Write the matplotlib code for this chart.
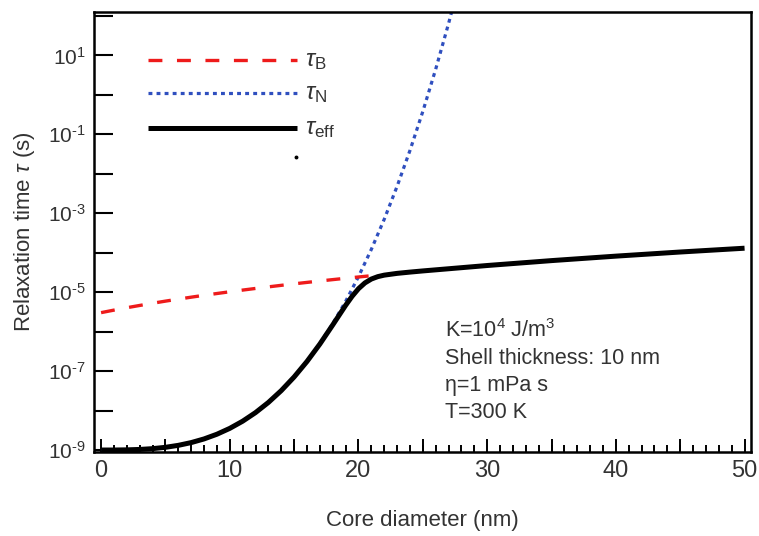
import matplotlib
matplotlib.use('Agg')
import matplotlib.pyplot as plt
from matplotlib.ticker import FixedLocator, MultipleLocator, NullLocator

plt.rcParams['font.family'] = ['Liberation Sans', 'DejaVu Sans']
plt.rcParams['mathtext.fontset'] = 'custom'
plt.rcParams['mathtext.rm'] = 'Liberation Sans'
plt.rcParams['mathtext.it'] = 'Liberation Sans:italic'
plt.rcParams['mathtext.bf'] = 'Liberation Sans:bold'

# ---------------- data ----------------
# Neel relaxation time tau_N (s) vs core diameter (nm)
d_neel = [0, 1, 2, 3, 4, 5, 6, 7, 8, 9, 10, 11, 12, 13, 14, 15, 16, 17, 18,
          19, 20, 21, 22, 23, 24, 25, 26, 27, 28]
tau_N = [1.000e-9, 1.001e-9, 1.010e-9, 1.035e-9, 1.084e-9, 1.171e-9, 1.314e-9,
         1.543e-9, 1.910e-9, 2.513e-9, 3.540e-9, 5.380e-9, 8.886e-9, 1.608e-8,
         3.210e-8, 7.13e-8, 1.773e-7, 4.98e-7, 1.593e-6, 5.83e-6, 2.470e-5,
         1.217e-4, 7.03e-4, 4.80e-3, 3.89e-2, 0.380, 4.47, 64.1, 1130.0]

# Brownian relaxation time tau_B (s)
d_brown = [0, 1, 2, 3, 4, 5, 6, 7, 8, 9, 10, 11, 12, 13, 14, 15, 16, 17, 18,
           19, 20, 21]
tau_B = [3.03e-6, 3.51e-6, 4.04e-6, 4.61e-6, 5.24e-6, 5.93e-6, 6.67e-6, 7.47e-6,
         8.33e-6, 9.25e-6, 1.024e-5, 1.130e-5, 1.243e-5, 1.363e-5, 1.491e-5,
         1.626e-5, 1.770e-5, 1.921e-5, 2.081e-5, 2.250e-5, 2.427e-5, 2.614e-5]

# effective relaxation time tau_eff (s)
d_eff = [0, 1, 2, 3, 4, 5, 6, 7, 8, 9, 10, 11, 12, 13, 14, 15, 16, 17, 18, 19,
         19.5, 20, 20.5, 21, 21.5, 22, 23, 24, 25, 30, 35, 40, 45, 50]
tau_eff = [1.000e-9, 1.001e-9, 1.010e-9, 1.035e-9, 1.084e-9, 1.171e-9, 1.314e-9,
           1.543e-9, 1.910e-9, 2.513e-9, 3.539e-9, 5.377e-9, 8.880e-9, 1.606e-8,
           3.203e-8, 7.10e-8, 1.755e-7, 4.85e-7, 1.480e-6, 4.63e-6, 7.83e-6,
           1.224e-5, 1.715e-5, 2.152e-5, 2.476e-5, 2.702e-5, 2.996e-5, 3.228e-5,
           3.456e-5, 4.74e-5, 6.31e-5, 8.19e-5, 1.042e-4, 1.301e-4]

y_tick_values = [1e2, 1e1, 1e0, 1e-1, 1e-2, 1e-3, 1e-4, 1e-5, 1e-6, 1e-7, 1e-8, 1e-9]
y_tick_labels = ['', r'10$^{1}$', '', r'10$^{\text{-}1}$', '', r'10$^{\text{-}3}$', '',
                 r'10$^{\text{-}5}$', '', r'10$^{\text{-}7}$', '', r'10$^{\text{-}9}$']
x_tick_values = [0, 10, 20, 30, 40, 50]
x_mid_ticks = [5, 15, 25, 35, 45]

annotation_lines = [r'K=10$^{4}$ J/m$^{3}$', 'Shell thickness: 10 nm',
                    'η=1 mPa s', 'T=300 K']
legend_labels = [r'$\tau_{\mathrm{B}}$', r'$\tau_{\mathrm{N}}$', r'$\tau_{\mathrm{eff}}$']

# ---------------- figure ----------------
W, H = 759, 536
fig = plt.figure(figsize=(W / 100, H / 100), dpi=100)
L, R, T, B = 94, 751, 12, 452
ax = fig.add_axes([L / W, 1 - B / H, (R - L) / W, (B - T) / H])

red = '#EE1B1B'
blue = '#2F4FBF'
textc = '#333333'

lw_r = 2.4
red_dash = (10 / lw_r, 10.5 / lw_r)
lw_b = 2.3
blue_dash = (2.8 / lw_b, 3.0 / lw_b)
lw_k = 3.6

ax.plot(d_brown, tau_B, color=red, lw=lw_r, dashes=red_dash,
        zorder=3, dash_capstyle='butt')
ax.plot(d_neel, tau_N, color=blue, lw=lw_b, dashes=blue_dash,
        zorder=2, dash_capstyle='butt')
ax.plot(d_eff, tau_eff, color='black', lw=lw_k, zorder=4, solid_capstyle='butt')

ax.set_yscale('log')
ax.set_xlim(-0.55, 50.5)
ax.set_ylim(10 ** -9.05, 10 ** 2.1)

ax.yaxis.set_major_locator(FixedLocator(y_tick_values))
ax.set_yticklabels(y_tick_labels)
ax.yaxis.set_minor_locator(NullLocator())
ax.set_xticks(x_tick_values)
ax.set_xticklabels([str(v) for v in x_tick_values])
ax.xaxis.set_minor_locator(MultipleLocator(1))

ax.tick_params(axis='y', which='major', direction='in', length=13.5, width=1.5,
               labelsize=15, pad=6, labelcolor=textc)
ax.tick_params(axis='x', which='major', direction='in', length=9.5, width=1.4,
               labelsize=17, pad=6, labelcolor=textc)
ax.tick_params(axis='x', which='minor', direction='in', length=5, width=1.4)

for xm in x_mid_ticks:
    ax.plot([xm, xm], [0, 9.5 / 440 * 1.389], transform=ax.get_xaxis_transform(),
            color='black', lw=1.4, solid_capstyle='butt', zorder=5, clip_on=False)

for s in ax.spines.values():
    s.set_linewidth(1.8)

ax.set_xlabel('Core diameter (nm)', fontsize=16, color=textc, labelpad=20)
ax.set_ylabel(r'Relaxation time $\tau$ (s)', fontsize=16, color=textc, labelpad=8)

# legend drawn manually in axes coordinates
def fx(px):
    return (px - L) / (R - L)

def fy(py):
    return (B - py) / (B - T)

leg_y = [60, 93, 128]
ax.plot([fx(148), fx(297)], [fy(leg_y[0])] * 2, transform=ax.transAxes, color=red,
        lw=lw_r, dashes=red_dash, dash_capstyle='butt')
ax.plot([fx(148), fx(297)], [fy(leg_y[1])] * 2, transform=ax.transAxes, color=blue,
        lw=lw_b, dashes=blue_dash, dash_capstyle='butt')
ax.plot([fx(148), fx(297)], [fy(leg_y[2])] * 2, transform=ax.transAxes, color='black',
        lw=lw_k, solid_capstyle='butt')
for yy, lab in zip(leg_y, legend_labels):
    ax.text(fx(305), fy(yy + 6), lab, transform=ax.transAxes, fontsize=17.5,
            color=textc, va='baseline', ha='left')
ax.plot([fx(296)], [fy(157)], transform=ax.transAxes, marker='o', ms=1.8,
        color='black', ls='none')

base_y = [337, 364, 391, 418]
for yy, txt in zip(base_y, annotation_lines):
    ax.text(fx(445), fy(yy), txt, transform=ax.transAxes, fontsize=15.5,
            color=textc, va='baseline', ha='left')

fig.savefig('out.png', dpi=100)
